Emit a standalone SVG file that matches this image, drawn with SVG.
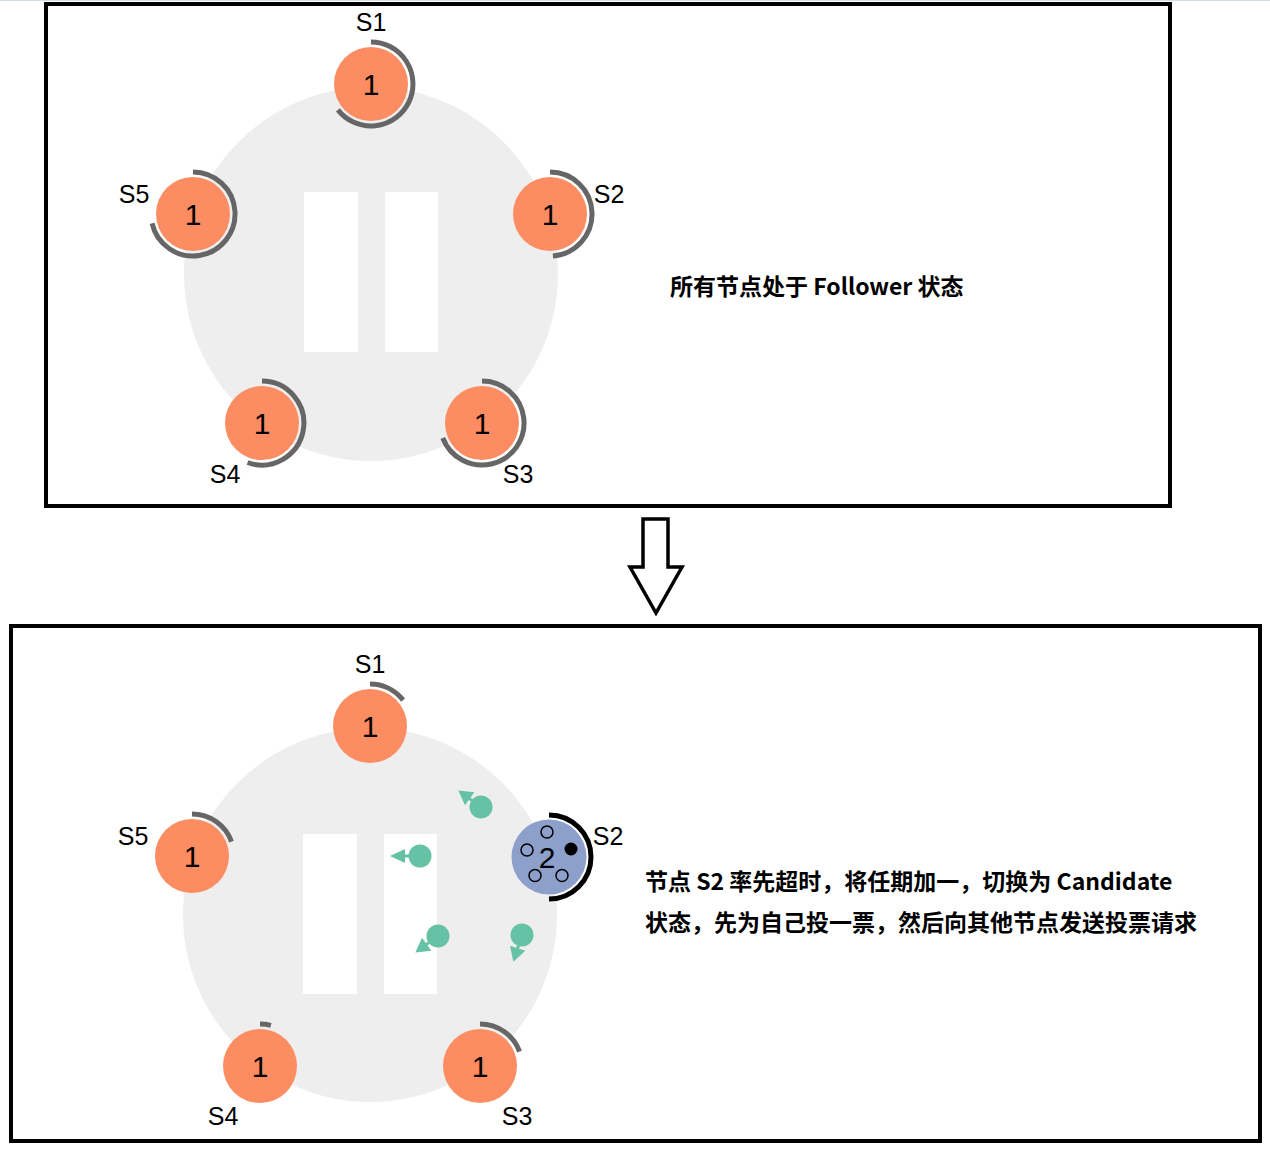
<svg xmlns="http://www.w3.org/2000/svg" width="1270" height="1150" viewBox="0 0 1270 1150">
<style>
.frame{fill:none;stroke:#000;stroke-width:4}
.bg{fill:#eeeeee}
.win{fill:#ffffff}
.node{fill:#fc8d62}
.cand{fill:#8da0cb}
.ring{fill:none;stroke:#666666;stroke-width:5}
.ringc{fill:none;stroke:#000;stroke-width:5}
.num{font-family:"Liberation Sans",Arial,sans-serif;font-size:30px;fill:#000;text-anchor:middle;dominant-baseline:central}
.lbl{font-family:"Liberation Sans",Arial,sans-serif;font-size:25px;fill:#000;text-anchor:middle}
.desc{font-family:"Noto Sans CJK SC","Microsoft YaHei",sans-serif;font-size:23px;font-weight:bold;fill:#000}
.msg{fill:#66c2a5}
.vote{fill:none;stroke:#000;stroke-width:1.5}
</style>
<line x1="0" y1="0.5" x2="1270" y2="0.5" stroke="#d5dde6" stroke-width="1"/>

<g id="panel-top">
  <rect class="frame" x="46" y="4" width="1124" height="502"/>
  <circle class="bg" cx="371" cy="274" r="187"/>
  <rect class="win" x="304" y="192" width="54" height="160"/>
  <rect class="win" x="385" y="192" width="53" height="160"/>
  <g id="t-s1">
    <circle class="node" cx="371" cy="84" r="37"/>
    <path class="ring" d="M371,42 A42,42 0 1 1 337.9,109.9"/>
    <text class="num" x="371" y="84">1</text>
    <text class="lbl" x="371" y="31">S1</text>
  </g>
  <g id="t-s2">
    <circle class="node" cx="550" cy="214" r="37"/>
    <path class="ring" d="M550,172 A42,42 0 0 1 552.9,255.9"/>
    <text class="num" x="550" y="214">1</text>
    <text class="lbl" x="609" y="203">S2</text>
  </g>
  <g id="t-s3">
    <circle class="node" cx="482" cy="423" r="37"/>
    <path class="ring" d="M482,381 A42,42 0 1 1 442.8,438"/>
    <text class="num" x="482" y="423">1</text>
    <text class="lbl" x="518" y="483">S3</text>
  </g>
  <g id="t-s4">
    <circle class="node" cx="262" cy="423" r="37"/>
    <path class="ring" d="M262,381 A42,42 0 1 1 247.6,462.5"/>
    <text class="num" x="262" y="423">1</text>
    <text class="lbl" x="225" y="483">S4</text>
  </g>
  <g id="t-s5">
    <circle class="node" cx="193" cy="214" r="37"/>
    <path class="ring" d="M193,172 A42,42 0 1 1 152.1,223.4"/>
    <text class="num" x="193" y="214">1</text>
    <text class="lbl" x="134" y="203">S5</text>
  </g>
  <text class="desc" x="670" y="295">所有节点处于 Follower 状态</text>
</g>

<g id="connectors">
  <polygon points="643,519 668,519 668,567 682,567 656,613 630,567 643,567" fill="#fff" stroke="#000" stroke-width="3.5" stroke-linejoin="miter"/>
</g>

<g id="panel-bottom">
  <rect class="frame" x="11" y="626" width="1249" height="515"/>
  <circle class="bg" cx="370" cy="915" r="187"/>
  <rect class="win" x="303" y="834" width="54" height="160"/>
  <rect class="win" x="384" y="834" width="53" height="160"/>
  <g id="b-s1">
    <circle class="node" cx="370" cy="726" r="37"/>
    <path class="ring" d="M370,684 A42,42 0 0 1 403.1,700.1"/>
    <text class="num" x="370" y="726">1</text>
    <text class="lbl" x="370" y="673">S1</text>
  </g>
  <g id="b-s2">
    <circle class="cand" cx="549" cy="857" r="37.5"/>
    <path class="ringc" d="M549,815 A42,42 0 0 1 549,899"/>
    <text class="num" x="547" y="857">2</text>
    <circle class="vote" cx="547" cy="832" r="6"/>
    <circle class="vote" cx="527" cy="850" r="6"/>
    <circle cx="571" cy="849" r="6.5" fill="#000"/>
    <circle class="vote" cx="535" cy="875.5" r="6"/>
    <circle class="vote" cx="562" cy="875.5" r="6"/>
    <text class="lbl" x="608" y="845">S2</text>
  </g>
  <g id="b-s3">
    <circle class="node" cx="480" cy="1066" r="37"/>
    <path class="ring" d="M480,1024 A42,42 0 0 1 519.5,1051.6"/>
    <text class="num" x="480" y="1066">1</text>
    <text class="lbl" x="517" y="1125">S3</text>
  </g>
  <g id="b-s4">
    <circle class="node" cx="260" cy="1066" r="37"/>
    <path class="ring" d="M260,1024 A42,42 0 0 1 270.9,1025.4"/>
    <text class="num" x="260" y="1066">1</text>
    <text class="lbl" x="223" y="1125">S4</text>
  </g>
  <g id="b-s5">
    <circle class="node" cx="192" cy="856" r="37"/>
    <path class="ring" d="M192,814 A42,42 0 0 1 231.5,841.6"/>
    <text class="num" x="192" y="856">1</text>
    <text class="lbl" x="133" y="845">S5</text>
  </g>
  <g id="messages">
    <g transform="translate(481,807) rotate(216)">
      <circle class="msg" r="11.5"/>
      <rect class="msg" x="0" y="-1.5" width="16" height="3"/>
      <polygon class="msg" points="28,0 14,-8 14,8"/>
    </g>
    <g transform="translate(420,856) rotate(180)">
      <circle class="msg" r="11.5"/>
      <rect class="msg" x="0" y="-1.5" width="16" height="3"/>
      <polygon class="msg" points="30,0 15,-7 15,7"/>
    </g>
    <g transform="translate(438,936) rotate(144)">
      <circle class="msg" r="11.5"/>
      <rect class="msg" x="0" y="-1.5" width="16" height="3"/>
      <polygon class="msg" points="28,0 14,-8 14,8"/>
    </g>
    <g transform="translate(522,935) rotate(108)">
      <circle class="msg" r="11.5"/>
      <rect class="msg" x="0" y="-1.5" width="16" height="3"/>
      <polygon class="msg" points="28,0 14,-8 14,8"/>
    </g>
  </g>
  <text class="desc" x="645" y="890">节点 S2 率先超时，将任期加一，切换为 Candidate</text>
  <text class="desc" x="645" y="931">状态，先为自己投一票，然后向其他节点发送投票请求</text>
</g>
</svg>
